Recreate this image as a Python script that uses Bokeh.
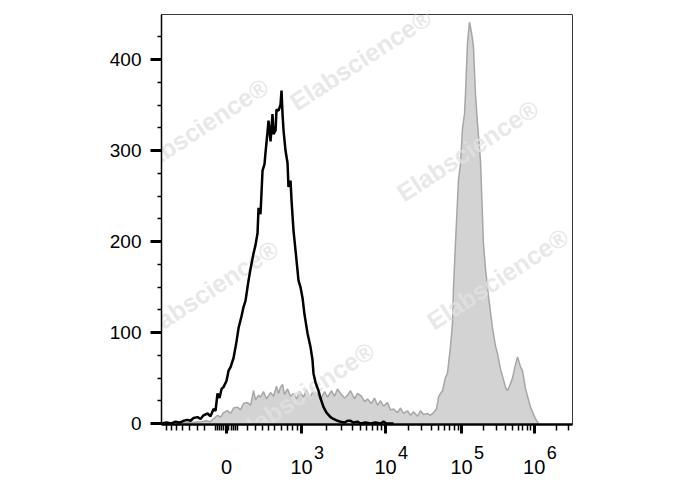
import math
from bokeh.plotting import figure
from bokeh.models import Range1d, FixedTicker, LinearAxis, CustomJSTickFormatter
from bokeh.core.properties import value
from bokeh.embed import file_html
from bokeh.resources import INLINE

# ---- data (x in display units of the logicle axis, y = count) ----
black_x = [0.873, 0.942, 1.011, 1.066, 1.121, 1.176, 1.231, 1.272, 1.314, 1.369,
           1.410, 1.451, 1.506, 1.547, 1.589, 1.616, 1.644, 1.671, 1.699, 1.726,
           1.768, 1.795, 1.823, 1.864, 1.905, 1.933, 1.974, 2.001, 2.029, 2.070,
           2.098, 2.139, 2.166, 2.194, 2.208, 2.235, 2.263, 2.290, 2.304, 2.331,
           2.345, 2.373, 2.400, 2.414, 2.442, 2.455, 2.483, 2.510, 2.524, 2.538,
           2.552, 2.579, 2.607, 2.620, 2.648, 2.662, 2.689, 2.717, 2.758, 2.785,
           2.813, 2.840, 2.882, 2.923, 2.950, 2.964, 2.992, 3.033, 3.060, 3.102,
           3.143, 3.198, 3.239, 3.294, 3.336, 3.391, 3.432, 3.473, 3.514, 3.569,
           3.611, 3.679, 3.748, 3.817, 3.886, 3.927, 3.968, 4.065]
black_y = [0, 1, 0, 2, 1, 3, 4, 3, 6, 7,
           5, 9, 11, 8, 16, 14, 33, 28, 38, 40,
           47, 58, 62, 72, 90, 105, 118, 128, 135, 157,
           170, 187, 196, 209, 237, 230, 278, 285, 298, 320,
           333, 310, 340, 318, 322, 345, 344, 350, 366, 340,
           322, 300, 286, 260, 267, 245, 212, 190, 157, 150,
           138, 120, 99, 84, 70, 55, 45, 36, 28, 18,
           12, 7, 5, 3, 2, 1, 3, 3, 1, 2,
           0, 1, 0, 1, 0, 2, 0, 0]

gray_x = [1.080, 1.162, 1.272, 1.410, 1.492, 1.547, 1.602, 1.644, 1.685, 1.726,
          1.781, 1.823, 1.864, 1.919, 1.960, 2.001, 2.056, 2.098, 2.139, 2.166,
          2.208, 2.235, 2.276, 2.318, 2.373, 2.414, 2.455, 2.483, 2.510, 2.538,
          2.565, 2.607, 2.648, 2.689, 2.730, 2.772, 2.827, 2.868, 2.909, 2.950,
          3.019, 3.060, 3.116, 3.157, 3.212, 3.253, 3.294, 3.336, 3.391, 3.432,
          3.473, 3.528, 3.569, 3.624, 3.666, 3.707, 3.762, 3.803, 3.845, 3.886,
          3.927, 3.982, 4.023, 4.065, 4.120, 4.161, 4.202, 4.257, 4.298, 4.340,
          4.395, 4.436, 4.477, 4.532, 4.574, 4.615, 4.656, 4.684, 4.711, 4.739,
          4.780, 4.807, 4.849, 4.876, 4.890, 4.917, 4.959, 4.986, 5.014, 5.041,
          5.055, 5.082, 5.110, 5.137, 5.164, 5.192, 5.220, 5.261, 5.302, 5.330,
          5.371, 5.426, 5.468, 5.495, 5.536, 5.578, 5.605, 5.633, 5.674, 5.702,
          5.743, 5.771, 5.798, 5.812, 5.839, 5.881, 5.908, 5.949, 5.991, 6.018,
          6.059]
gray_y = [0, 1, 1, 2, 3, 2, 6, 9, 7, 12,
          14, 11, 17, 18, 15, 22, 23, 20, 36, 26,
          31, 29, 35, 27, 34, 30, 41, 33, 40, 43,
          32, 38, 30, 33, 27, 35, 29, 37, 28, 34,
          33, 26, 35, 29, 36, 30, 38, 33, 28, 31,
          36, 27, 33, 30, 24, 27, 22, 28, 20, 25,
          19, 23, 15, 16, 12, 17, 11, 14, 9, 13,
          8, 14, 10, 11, 9, 12, 16, 29, 33, 36,
          51, 55, 85, 110, 150, 198, 268, 285, 325, 340,
          362, 418, 441, 430, 415, 362, 330, 289, 198, 170,
          140, 105, 85, 77, 60, 48, 40, 36, 44, 50,
          65, 73, 66, 62, 58, 38, 30, 18, 10, 5,
          0]

# ---- axis ticks ----
x_major_pos = [1.768, 2.799, 3.955, 5.0, 6.0]
x_major_lab = ["0", "10", "10", "10", "10"]
x_exponents = ["", "3", "4", "5", "6"]
x_minor_low = [0.942, 1.011, 1.080, 1.162, 1.259, 1.369, 1.465,
               1.61, 1.64, 1.67, 1.70, 1.73, 1.80, 1.83, 1.86, 1.89, 1.92,
               2.061, 2.166, 2.267, 2.349, 2.432, 2.524, 2.602, 2.671, 2.740]
y_major = [0, 100, 200, 300, 400]
y_minor = [25, 50, 75, 125, 150, 175, 225, 250, 275, 325, 350, 375, 425]

# watermark positions (data coords)
wm_x = [1.369, 3.611, 5.082, 1.506, 5.495, 2.827]
wm_y = [324, 400, 300, 146, 159, 34]

# log-decade minor ticks between the labelled decades
decade_edges = [(2.799, 3.955), (3.955, 5.0), (5.0, 6.0), (6.0, 7.0)]
x_minor = list(x_minor_low)
for a, b in decade_edges:
    for m in range(2, 10):
        t = a + (b - a) * math.log10(m)
        if t < 6.527:
            x_minor.append(round(t, 4))

FONT = "Liberation Sans"

p = figure(frame_width=411, frame_height=410,
           min_border_left=161, min_border_right=100,
           min_border_top=14, min_border_bottom=60,
           x_range=Range1d(0.873, 6.527), y_range=Range1d(-1.1, 449.5),
           output_backend="svg", toolbar_location=None)
p.grid.visible = False
p.outline_line_color = "#3a3a3a"
p.outline_line_width = 1
p.background_fill_color = "white"
p.border_fill_color = "white"

# gray filled histogram
p.varea(x=gray_x, y1=0, y2=gray_y, fill_color="#d3d3d3")
p.line(gray_x, gray_y, line_color="#a6a6a6", line_width=1.5)

# watermark
p.text(x=wm_x, y=wm_y, text=["Elabscience\u00ae"] * len(wm_x), angle=0.58,
       text_align="center", text_baseline="middle",
       text_font=value(FONT), text_font_style="bold", text_font_size="25px",
       text_color="#e2e2e2", text_alpha=0.8)

# black open histogram
p.line(black_x, black_y, line_color="black", line_width=2.5)

# main x axis: ticks + exponents
PAD = "\u2007\u2007\u2007\u2008"
xa = p.xaxis[0]
xa.ticker = FixedTicker(ticks=x_major_pos, minor_ticks=x_minor)
xa.formatter = CustomJSTickFormatter(args=dict(pos=x_major_pos, lab=x_exponents, pad=PAD), code="""
    for (let i = 0; i < pos.length; i++) {
        if (Math.abs(pos[i] - tick) < 1e-3) { return lab[i] ? pad + lab[i] : ""; }
    }
    return "";
""")
xa.axis_line_width = 2.5
xa.axis_line_color = "black"
xa.major_tick_in = 0
xa.major_tick_out = 9
xa.major_tick_line_width = 3
xa.minor_tick_in = 0
xa.minor_tick_out = 6
xa.minor_tick_line_width = 1.5
xa.major_label_standoff = 9
xa.major_label_text_font = FONT
xa.major_label_text_font_size = "18px"
xa.major_label_text_color = "black"

# second x axis row: base labels "0" / "10"
xb = LinearAxis(ticker=FixedTicker(ticks=x_major_pos, minor_ticks=[]))
xb.formatter = CustomJSTickFormatter(args=dict(pos=x_major_pos, lab=x_major_lab), code="""
    for (let i = 0; i < pos.length; i++) {
        if (Math.abs(pos[i] - tick) < 1e-3) { return lab[i]; }
    }
    return "";
""")
xb.axis_line_color = None
xb.major_tick_line_color = None
xb.minor_tick_line_color = None
xb.major_tick_out = 0
xb.major_tick_in = 0
xb.minor_tick_out = 0
xb.minor_tick_in = 0
xb.major_label_standoff = -6
xb.major_label_text_font = FONT
xb.major_label_text_font_size = "20px"
xb.major_label_text_color = "black"
p.add_layout(xb, "below")

# y axis
ya = p.yaxis[0]
ya.ticker = FixedTicker(ticks=y_major, minor_ticks=y_minor)
ya.axis_line_width = 1.5
ya.axis_line_color = "black"
ya.major_tick_in = 0
ya.major_tick_out = 11
ya.major_tick_line_width = 3
ya.minor_tick_in = 0
ya.minor_tick_out = 4
ya.minor_tick_line_width = 1.5
ya.major_label_standoff = 9
ya.major_label_text_font = FONT
ya.major_label_text_font_size = "19px"
ya.major_label_text_color = "black"

open("out.html", "w").write(file_html(p, INLINE))
